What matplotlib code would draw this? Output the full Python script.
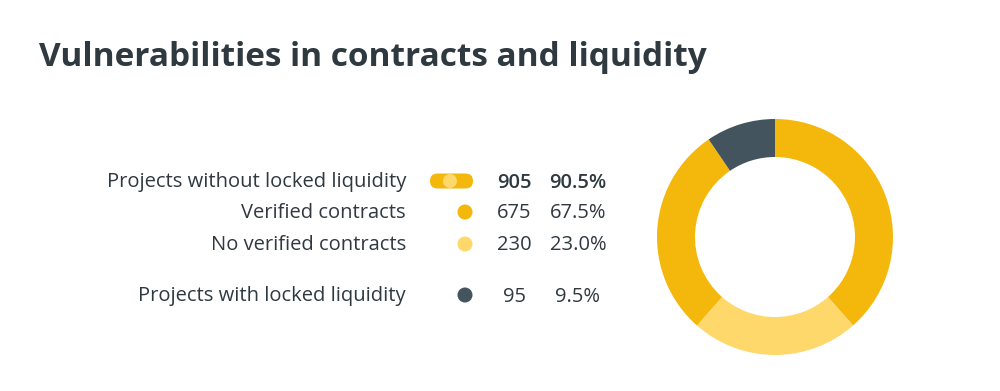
import matplotlib.pyplot as plt
from matplotlib.patches import Circle, FancyBboxPatch

# Data
labels = ["Projects without locked liquidity", "Verified contracts",
          "No verified contracts", "Projects with locked liquidity"]
counts = [905, 675, 230, 95]
total = 1000
title = "Vulnerabilities in contracts and liquidity"

dark_yellow = "#F4B70B"
light_yellow = "#FFD86C"
slate = "#44545F"
text_col = "#2E3940"

plt.rcParams['font.family'] = ['Open Sans', 'DejaVu Sans']

fig = plt.figure(figsize=(10, 3.91), dpi=100)
ax = fig.add_axes([0, 0, 1, 1])
ax.set_xlim(0, 1000)
ax.set_ylim(391, 0)
ax.axis("off")

ax.text(39, 57, title, fontsize=24, fontweight="bold", color=text_col,
        va="center", ha="left")

# legend rows
row_y = [181, 212, 244, 295]
marker_col = [None, dark_yellow, light_yellow, slate]
for i, (lab, c) in enumerate(zip(labels, counts)):
    y = row_y[i]
    ty = y + 1.5
    w = "semibold" if i == 0 else "normal"
    ax.text(406, ty, lab, fontsize=14.5, color=text_col, ha="right", va="center",
            fontweight="medium")
    ax.text(514, ty, f"{c}", fontsize=14.5, color=text_col, ha="center", va="center",
            fontweight=w)
    ax.text(578, ty, f"{c / total * 100:.1f}%", fontsize=14.5, color=text_col,
            ha="center", va="center", fontweight=w)
    if i == 0:
        ax.add_patch(FancyBboxPatch((430, 173.5), 43, 15,
                                    boxstyle="round,pad=0,rounding_size=7.5",
                                    fc=dark_yellow, ec="none"))
        ax.add_patch(Circle((450, 181), 7, fc=light_yellow, ec="none"))
    else:
        ax.add_patch(Circle((465, y), 7.5, fc=marker_col[i], ec="none"))

# donut: light segment centred at the bottom of the yellow arc
verified, unverified, locked = counts[1], counts[2], counts[3]
first_part = total / 2 - unverified / 2
sizes = [first_part, unverified, verified - first_part, locked]
colors = [dark_yellow, light_yellow, dark_yellow, slate]

pax = fig.add_axes([0.657, 36 / 391, 0.236, 236 / 391])
pax.pie(sizes, colors=colors, startangle=90, counterclock=False,
        wedgeprops=dict(width=0.322, edgecolor="none"))
pax.set_xlim(-1, 1)
pax.set_ylim(-1, 1)
pax.set_aspect("equal")
pax.axis("off")

fig.savefig("out.png", dpi=100, facecolor="white")
